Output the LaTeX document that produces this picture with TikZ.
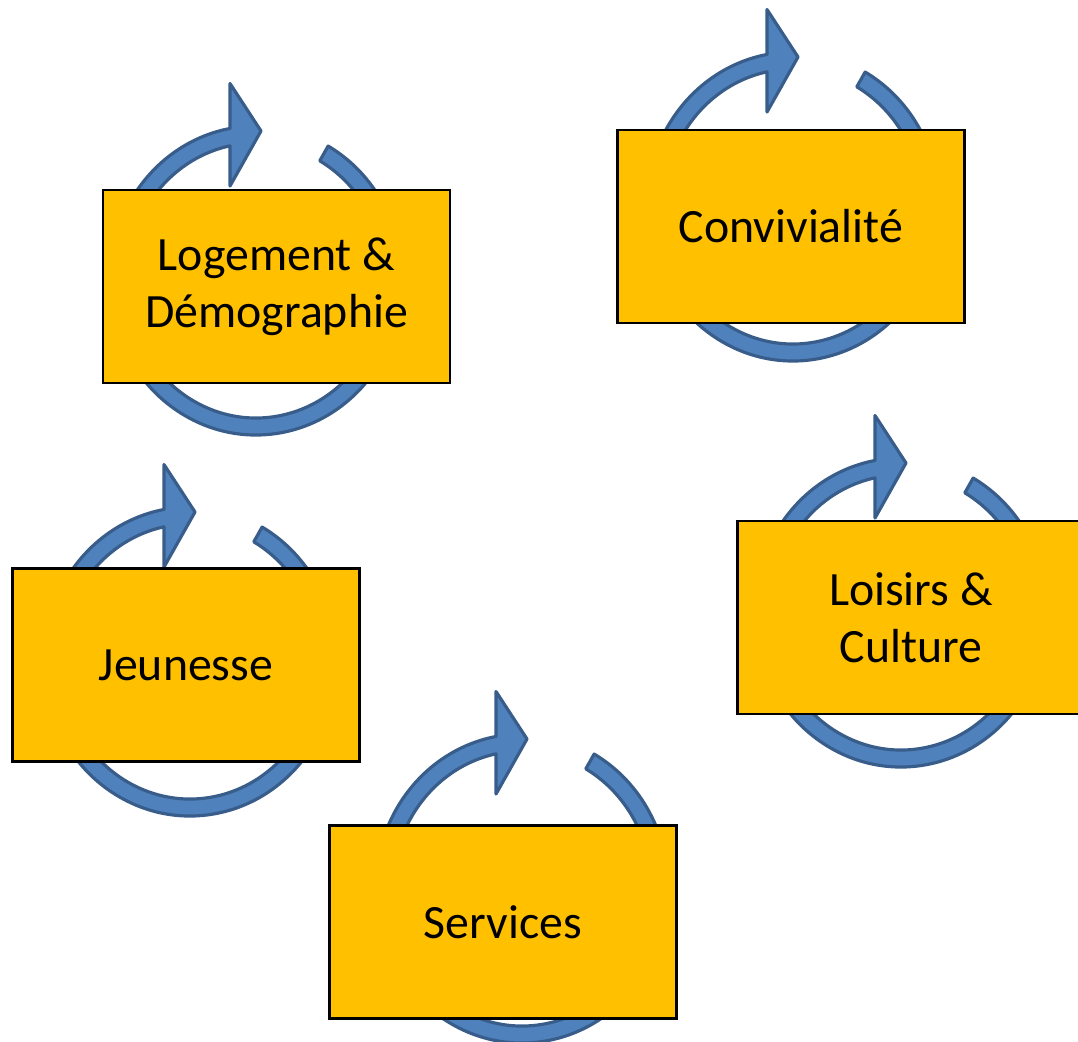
\documentclass[tikz,border=0pt]{standalone}
\usepackage{fontspec}
\setmainfont{Carlito}
\usepackage{tikz}
\usetikzlibrary{positioning}

\definecolor{ringblue}{HTML}{4F81BD}
\definecolor{ringedge}{HTML}{385D8A}
\definecolor{boxgold}{HTML}{FFC000}

\begin{document}
\begin{tikzpicture}[
            bluering/.style={fill=ringblue, draw=ringedge, line width=0.9pt, line join=round},
            goldboxnode/.style={rectangle, draw=black, fill=boxgold, line width=0.6pt,
                minimum width=3.47cm, minimum height=1.93cm, align=center,
                font=\fontsize{13.6}{16.2}\selectfont},
            looparrow/.pic={
                \filldraw[bluering] (60.5:1.465 and 1.545)
                    arc[start angle=60.5, end angle=-259.8, x radius=1.465, y radius=1.545]
                    -- (-0.26,1.97) -- (0.05,1.495) -- (-0.26,0.945) -- (-258.4:1.295 and 1.375)
                    arc[start angle=-258.4, end angle=60.5, x radius=1.295, y radius=1.375] -- cycle;
            },
            ]

            \useasboundingbox (0,0) rectangle (10.78,10.41);

            \pic at (2.56,7.605) {looparrow};
            \pic at (7.93,8.345) {looparrow};
            \pic at (1.90,3.795) {looparrow};
            \pic at (5.22,1.525) {looparrow};
            \pic at (9.01,4.285) {looparrow};

            \node[goldboxnode] (logement) at (2.765,7.545) {Logement \&\\Démographie};
            \node[goldboxnode] (convivialite) at (7.91,8.145) {Convivialité};
            \node[goldboxnode] (jeunesse) at (1.86,3.76) {Jeunesse};
            \node[goldboxnode] (services) at (5.03,1.19) {Services};
            \node[goldboxnode] (loisirs) at (9.11,4.235) {Loisirs \&\\Culture};
        \end{tikzpicture}
\end{document}
